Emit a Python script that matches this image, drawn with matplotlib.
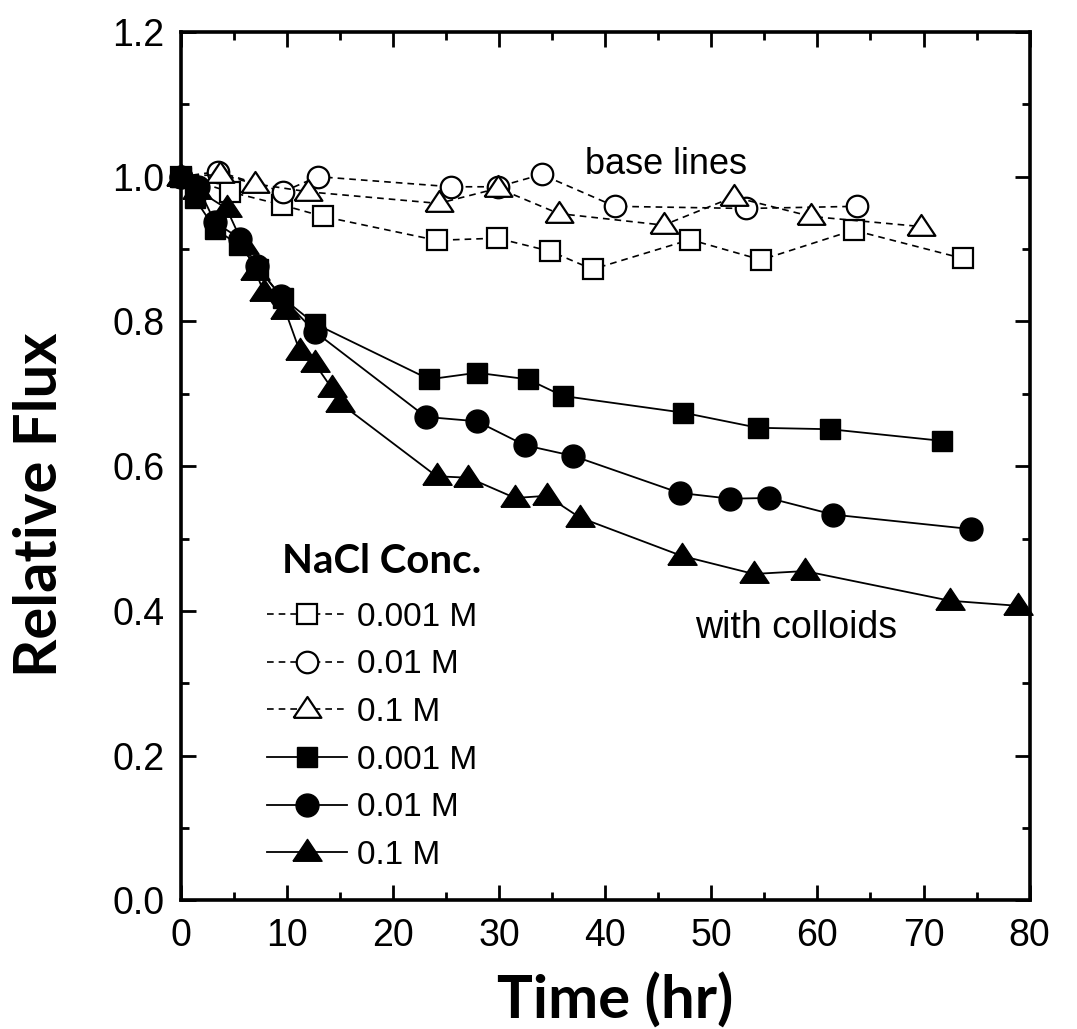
import matplotlib
matplotlib.use("Agg")
import matplotlib.pyplot as plt
from matplotlib.ticker import MultipleLocator

# ========= DATA =========
# baseline runs (no colloids), open symbols
base_sq_t = [0, 4.6, 9.5, 13.4, 24.1, 29.8, 34.8, 38.8, 48.0, 54.7, 63.4, 73.7]
base_sq_f = [1.0, 0.979, 0.961, 0.945, 0.912, 0.915, 0.897, 0.872, 0.913, 0.885, 0.926, 0.887]

base_ci_t = [0, 3.5, 9.6, 12.9, 25.5, 29.9, 34.0, 40.9, 53.3, 63.7]
base_ci_f = [1.0, 1.007, 0.979, 1.0, 0.986, 0.986, 1.003, 0.959, 0.956, 0.959]

base_tr_t = [0, 3.7, 7.0, 12.0, 24.3, 29.9, 35.6, 45.5, 52.1, 59.4, 69.8]
base_tr_f = [1.0, 1.003, 0.990, 0.979, 0.963, 0.984, 0.949, 0.933, 0.972, 0.945, 0.931]

# with colloids, filled symbols
col_sq_t = [0, 1.3, 3.2, 5.5, 7.3, 9.6, 12.6, 23.4, 27.9, 32.7, 36.0, 47.3, 54.4, 61.2, 71.7]
col_sq_f = [1.0, 0.970, 0.928, 0.905, 0.873, 0.832, 0.797, 0.720, 0.729, 0.720, 0.697, 0.674, 0.653, 0.651, 0.635]

col_ci_t = [0, 1.6, 3.2, 5.6, 7.2, 9.4, 12.6, 23.1, 27.9, 32.4, 37.0, 47.0, 51.8, 55.4, 61.5, 74.5]
col_ci_f = [1.0, 0.986, 0.937, 0.914, 0.876, 0.835, 0.786, 0.668, 0.662, 0.629, 0.614, 0.563, 0.555, 0.556, 0.533, 0.513]

col_tr_t = [0, 1.5, 4.3, 5.9, 7.0, 7.8, 9.8, 11.2, 12.6, 14.2, 15.0, 24.1, 27.1, 31.5, 34.5, 37.6,
            47.2, 54.0, 58.8, 72.5, 78.9]
col_tr_f = [1.0, 0.982, 0.956, 0.905, 0.870, 0.841, 0.816, 0.759, 0.742, 0.708, 0.687, 0.586, 0.584,
            0.556, 0.559, 0.529, 0.476, 0.451, 0.455, 0.414, 0.407]

conc_labels = ["0.001 M", "0.01 M", "0.1 M"]
# ==============================================

LABEL_FONT = ["Lato", "DejaVu Sans"]
TICK_FONT = ["Liberation Sans", "DejaVu Sans"]

# wider, flatter triangle like the original symbol
TRI = [(-1, -0.6), (1, -0.6), (0, 0.9), (-1, -0.6)]


def main():
    fig = plt.figure(figsize=(10.77, 10.29), dpi=100)
    ax = fig.add_axes([0.168, 0.125, 0.788, 0.844])

    dash = (0, (4, 3))
    base = [(base_sq_t, base_sq_f, "s", 14.5), (base_ci_t, base_ci_f, "o", 15.5), (base_tr_t, base_tr_f, TRI, 20)]
    for (t, f, m, ms), lab in zip(base, conc_labels):
        ax.plot(t, f, linestyle=dash, lw=1.2, color="black", marker=m, ms=ms,
                mfc="white", mec="black", mew=1.6, label=lab, clip_on=False)

    coll = [(col_sq_t, col_sq_f, "s", 15), (col_ci_t, col_ci_f, "o", 16.5), (col_tr_t, col_tr_f, TRI, 21)]
    for (t, f, m, ms), lab in zip(coll, conc_labels):
        ax.plot(t, f, linestyle="-", lw=1.3, color="black", marker=m, ms=ms,
                mfc="black", mec="black", label=lab, clip_on=False, zorder=3)

    ax.set_xlim(0, 80)
    ax.set_ylim(0, 1.2)
    ax.xaxis.set_major_locator(MultipleLocator(10))
    ax.xaxis.set_minor_locator(MultipleLocator(5))
    ax.yaxis.set_major_locator(MultipleLocator(0.2))
    ax.yaxis.set_minor_locator(MultipleLocator(0.1))
    ax.yaxis.set_major_formatter(plt.FuncFormatter(lambda v, p: f"{v:.1f}"))

    ax.tick_params(which="both", direction="in", top=True, right=True, width=2)
    ax.tick_params(which="major", length=11)
    ax.tick_params(which="minor", length=6)
    ax.tick_params(axis="x", pad=13)
    ax.tick_params(axis="y", pad=12)
    for lbl in ax.get_xticklabels() + ax.get_yticklabels():
        lbl.set_fontfamily(TICK_FONT)
        lbl.set_fontsize(27)
    for s in ax.spines.values():
        s.set_linewidth(2.6)

    ax.set_xlabel("Time (hr)", fontsize=43, fontweight="bold", family=LABEL_FONT)
    ax.set_ylabel("Relative Flux", fontsize=43, fontweight="bold", family=LABEL_FONT)
    ax.xaxis.set_label_coords(0.512, -0.083)
    ax.yaxis.set_label_coords(-0.134, 0.455)

    ax.text(45.7, 1.004, "base lines", fontsize=26, family=TICK_FONT, ha="center", va="baseline")
    ax.text(58.0, 0.363, "with colloids", fontsize=27, family=TICK_FONT, ha="center", va="baseline")

    ax.text(9.5, 0.468, "NaCl Conc.", fontsize=29, fontweight="bold", family=LABEL_FONT,
            ha="left", va="center")
    ax.legend(loc="upper left", bbox_to_anchor=(0.101, 0.344), frameon=False,
              prop={"family": TICK_FONT, "size": 24}, handlelength=2.4,
              handletextpad=0.3, labelspacing=0.5, borderaxespad=0, borderpad=0)

    plt.savefig("out.png", dpi=100)


if __name__ == "__main__":
    main()
